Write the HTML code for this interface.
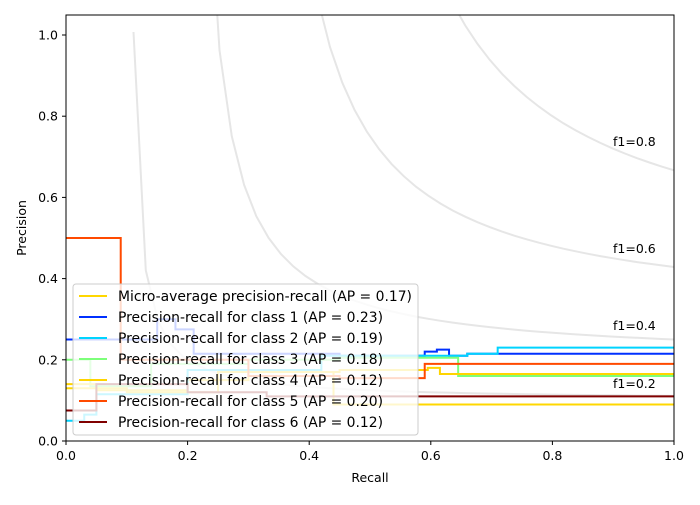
<!DOCTYPE html>
<html><head><meta charset="utf-8"><style>
html,body{margin:0;padding:0;background:#fff;}
svg text{font-family:"DejaVu Sans","Liberation Sans",sans-serif;}
</style></head><body>
<svg id="s" width="700" height="500" xmlns="http://www.w3.org/2000/svg">
<rect width="700" height="500" fill="#fff"/>
<defs><clipPath id="c"><rect x="66" y="15" width="608" height="426"/></clipPath></defs>
<g id="iso" clip-path="url(#c)" fill="none" stroke="#e6e6e6" stroke-width="2"></g>
<g font-size="12.5" fill="#000">
<text x="613" y="146">f1=0.8</text>
<text x="613" y="253">f1=0.6</text>
<text x="613" y="330">f1=0.4</text>
<text x="613" y="388">f1=0.2</text>
</g>
<g id="ser" clip-path="url(#c)" fill="none" stroke-width="2"></g>
<rect x="73" y="284" width="345" height="151" rx="3" fill="#fff" fill-opacity="0.8" stroke="#ccc"/>
<g stroke-width="2">
<line x1="79" y1="296" x2="107" y2="296" stroke="#ffd700"/>
<line x1="79" y1="317" x2="107" y2="317" stroke="#0030ff"/>
<line x1="79" y1="338" x2="107" y2="338" stroke="#00d4ff"/>
<line x1="79" y1="359" x2="107" y2="359" stroke="#7dff7a"/>
<line x1="79" y1="380" x2="107" y2="380" stroke="#ffd400"/>
<line x1="79" y1="401" x2="107" y2="401" stroke="#ff4a00"/>
<line x1="79" y1="422" x2="107" y2="422" stroke="#800000"/>
</g>
<g font-size="13.9" fill="#000">
<text x="118" y="301">Micro-average precision-recall (AP = 0.17)</text>
<text x="118" y="322">Precision-recall for class 1 (AP = 0.23)</text>
<text x="118" y="343">Precision-recall for class 2 (AP = 0.19)</text>
<text x="118" y="364">Precision-recall for class 3 (AP = 0.18)</text>
<text x="118" y="385">Precision-recall for class 4 (AP = 0.12)</text>
<text x="118" y="406">Precision-recall for class 5 (AP = 0.20)</text>
<text x="118" y="427">Precision-recall for class 6 (AP = 0.12)</text>
</g>
<rect x="66" y="15" width="608" height="426" fill="none" stroke="#000" stroke-width="1"/>
<g id="ticks" stroke="#000" font-size="12.5" ></g>
<text x="370" y="482" font-size="12.5" text-anchor="middle">Recall</text>
<text transform="translate(26,228) rotate(-90)" font-size="12.5" text-anchor="middle">Precision</text>
</svg>
<script>
var X=function(r){return 66+608*r},Y=function(p){return 441-406*p};
var ns="http://www.w3.org/2000/svg";
function el(p,t,a){var e=document.createElementNS(ns,t);for(var k in a)e.setAttribute(k,a[k]);p.appendChild(e);return e;}
var iso=document.getElementById('iso');
[0.2,0.4,0.6,0.8].forEach(function(f){var d="";for(var i=0;i<50;i++){var x=0.01+i*(0.99/49);var y=f*x/(2*x-f);if(y<0)continue;d+=(d?"L":"M")+X(x).toFixed(1)+","+Y(y).toFixed(1);}el(iso,"path",{d:d});});
function step(pts,col){var d="M"+X(pts[0][0])+","+Y(pts[0][1]);for(var i=1;i<pts.length;i++){d+="H"+X(pts[i][0])+"V"+Y(pts[i][1]);}
d+="H"+X(1);el(document.getElementById('ser'),"path",{d:d,stroke:col});}
step([[0,0.13],[0.05,0.125],[0.2,0.15],[0.3,0.17],[0.44,0.09]],"#ffd700");
step([[0,0.25],[0.03,0.25],[0.15,0.3],[0.18,0.275],[0.21,0.215],[0.45,0.21],[0.59,0.22],[0.61,0.225],[0.63,0.21],[0.66,0.215]],"#0030ff");
step([[0,0.05],[0.03,0.065],[0.05,0.115],[0.2,0.175],[0.42,0.21],[0.6,0.21],[0.66,0.215],[0.71,0.23]],"#00d4ff");
step([[0,0.2],[0.04,0.135],[0.14,0.19],[0.3,0.2],[0.45,0.205],[0.645,0.16]],"#7dff7a");
step([[0,0.14],[0.05,0.13],[0.1,0.12],[0.25,0.17],[0.45,0.175],[0.595,0.18],[0.615,0.165]],"#ffd400");
step([[0,0.5],[0.09,0.4],[0.09,0.2],[0.3,0.16],[0.45,0.155],[0.59,0.19]],"#ff4a00");
step([[0,0.075],[0.05,0.14],[0.1,0.14],[0.2,0.12],[0.33,0.11]],"#800000");
var t=document.getElementById('ticks');
for(var i=0;i<=5;i++){var v=i*0.2;var x=X(v),y=Y(v);
el(t,"line",{x1:x,y1:441,x2:x,y2:445});var tx=el(t,"text",{x:x,y:460,"text-anchor":"middle",stroke:"none"});tx.textContent=v.toFixed(1);
el(t,"line",{x1:62,y1:y,x2:66,y2:y});var ty=el(t,"text",{x:58,y:y+4.5,"text-anchor":"end",stroke:"none"});ty.textContent=v.toFixed(1);}
</script>
</body></html>
